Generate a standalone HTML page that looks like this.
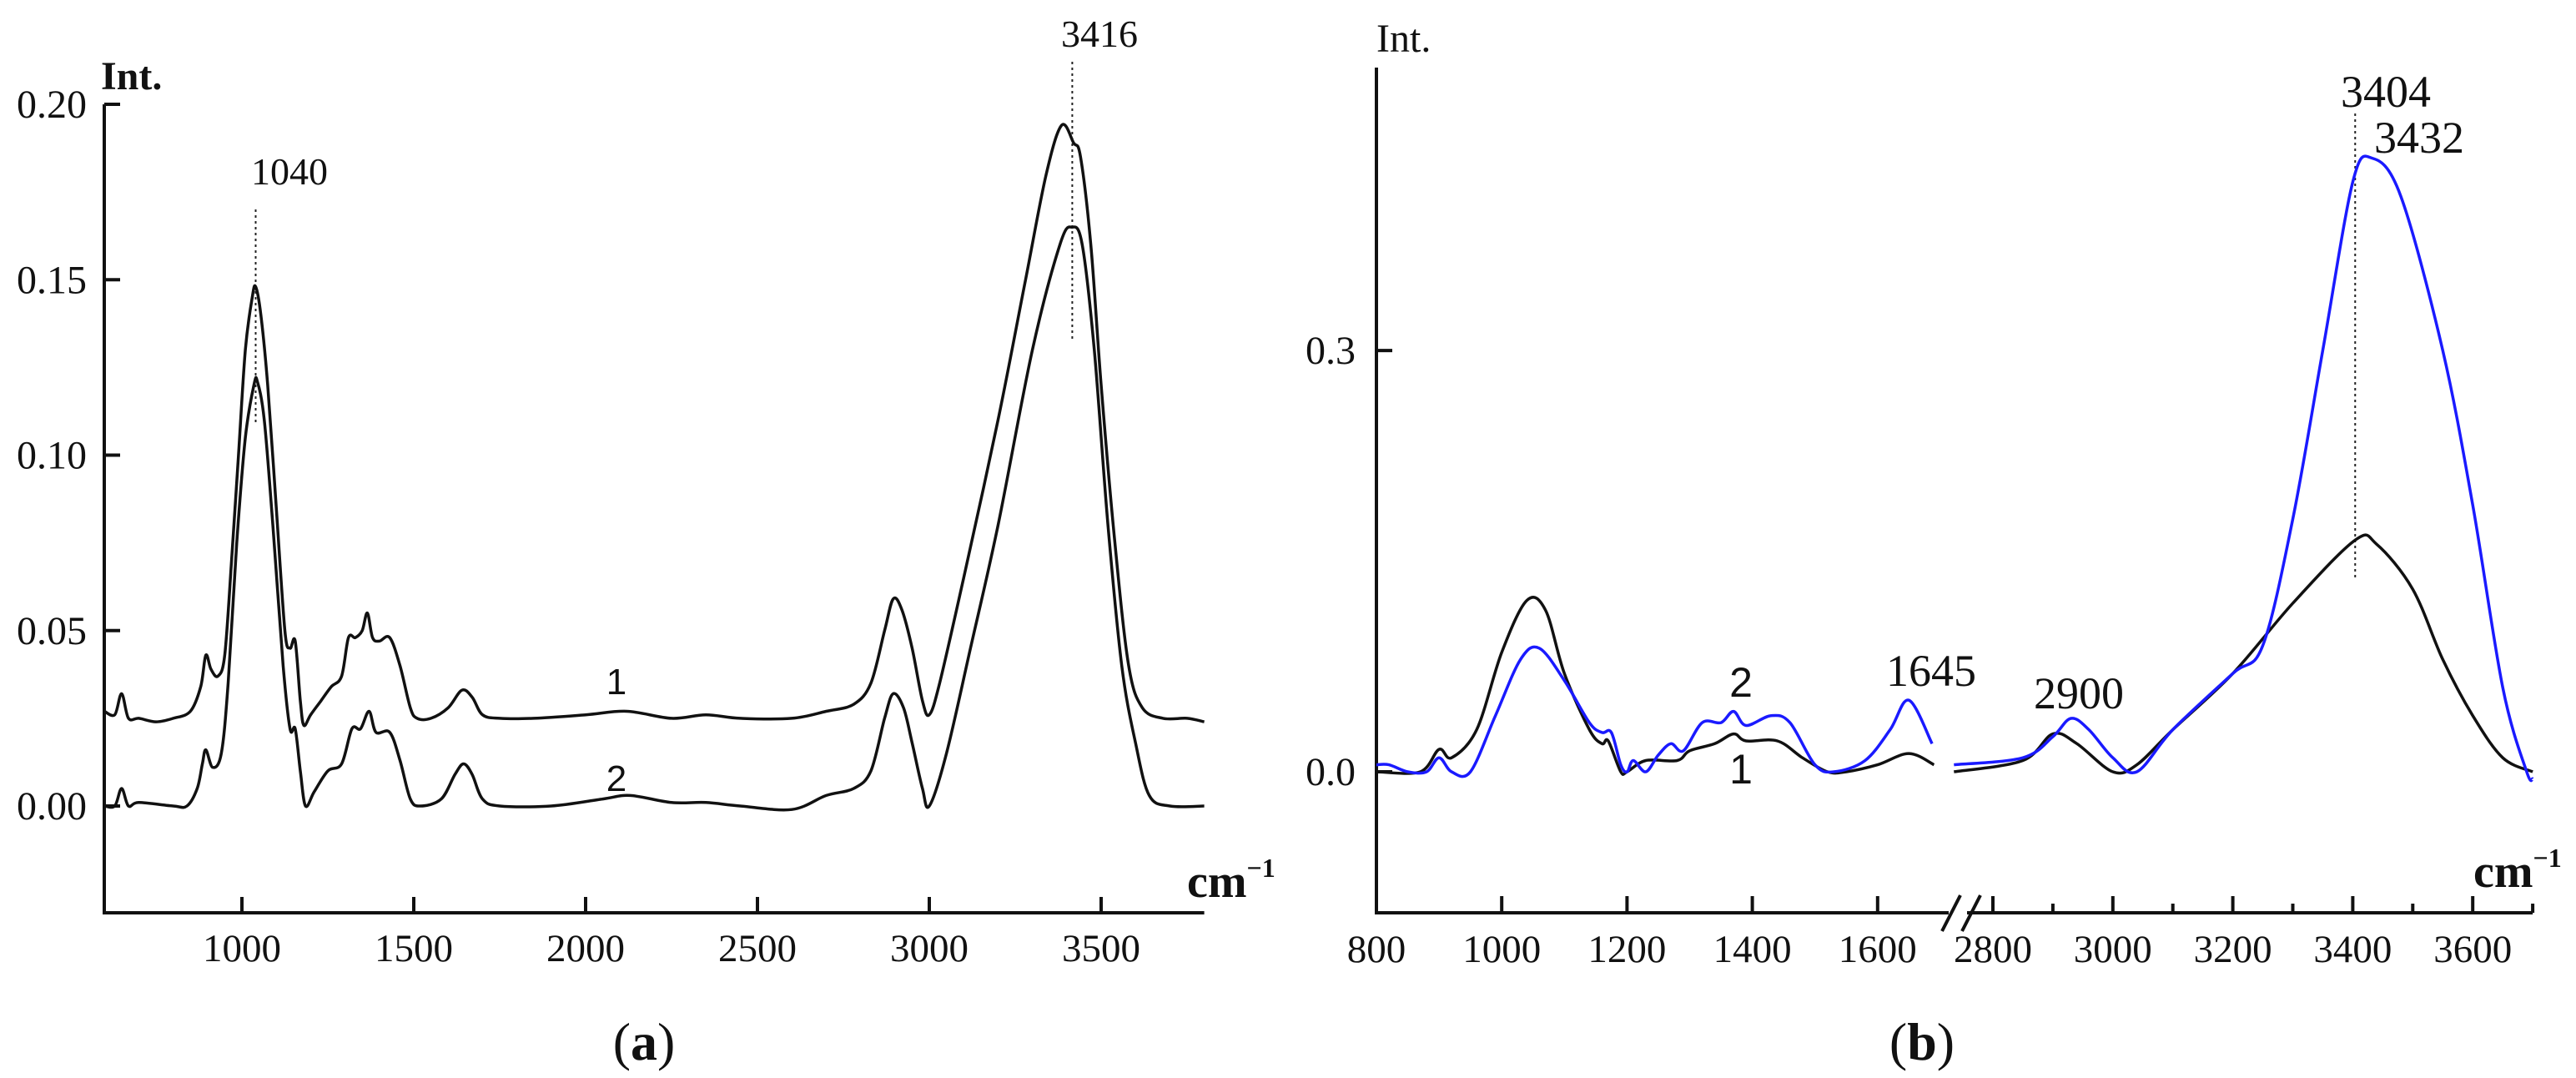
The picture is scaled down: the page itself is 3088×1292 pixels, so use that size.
<!DOCTYPE html>
<html><head><meta charset="utf-8">
<style>
html,body{margin:0;padding:0;background:#fff;}
svg{display:block;}
text{font-family:"Liberation Serif",serif;fill:#111;}
.sans{font-family:"Liberation Sans",sans-serif;}
</style></head>
<body>
<svg id="chart" width="3088" height="1292" viewBox="0 0 3088 1292" xmlns="http://www.w3.org/2000/svg">
<g id="pa"></g>
<g id="pb"></g>
</svg>
<script>
// ---- Panel (a) data ----
const aXTicks = [1000,1500,2000,2500,3000,3500];
const aYTicks = [0.00,0.05,0.10,0.15,0.20];
const aYTickLabels = ["0.00","0.05","0.10","0.15","0.20"];
const aC1x = [600,630,650,670,700,750,800,850,880,895,910,930,950,970,990,1010,1030,1040,1055,1075,1100,1125,1140,1155,1170,1180,1200,1230,1260,1290,1310,1330,1350,1365,1380,1400,1430,1460,1490,1510,1550,1600,1640,1670,1700,1750,1850,2000,2120,2250,2350,2450,2600,2700,2780,2830,2870,2895,2920,2950,2980,3000,3030,3100,3200,3280,3340,3385,3420,3440,3470,3500,3540,3580,3620,3680,3750,3800];
const aC1y = [0.027,0.026,0.032,0.025,0.025,0.024,0.025,0.027,0.034,0.043,0.039,0.037,0.043,0.07,0.1,0.13,0.145,0.148,0.14,0.12,0.085,0.05,0.045,0.047,0.03,0.023,0.026,0.03,0.034,0.037,0.048,0.048,0.05,0.055,0.048,0.047,0.048,0.04,0.028,0.025,0.025,0.028,0.033,0.031,0.026,0.025,0.025,0.026,0.027,0.025,0.026,0.025,0.025,0.027,0.029,0.035,0.05,0.059,0.056,0.045,0.03,0.026,0.035,0.065,0.11,0.15,0.18,0.194,0.189,0.185,0.16,0.12,0.075,0.04,0.028,0.025,0.025,0.024];
const aC2x = [600,630,650,670,700,800,840,870,885,895,915,940,960,985,1010,1035,1045,1065,1090,1120,1140,1155,1170,1185,1210,1250,1290,1320,1345,1370,1390,1430,1460,1490,1520,1580,1620,1645,1670,1700,1750,1900,2050,2130,2250,2350,2450,2600,2700,2780,2830,2870,2895,2925,2950,2980,3000,3050,3120,3200,3300,3380,3415,3445,3480,3520,3560,3600,3640,3700,3800];
const aC2y = [0.0,0.0,0.005,0.0,0.001,0.0,0.0,0.005,0.012,0.016,0.011,0.015,0.035,0.075,0.105,0.12,0.121,0.11,0.08,0.04,0.022,0.022,0.01,0.0,0.004,0.01,0.012,0.022,0.022,0.027,0.021,0.021,0.013,0.002,0.0,0.002,0.009,0.012,0.009,0.002,0.0,0.0,0.002,0.003,0.001,0.001,0.0,-0.001,0.003,0.005,0.01,0.025,0.032,0.028,0.018,0.005,0.0,0.015,0.045,0.08,0.13,0.16,0.165,0.16,0.13,0.08,0.04,0.018,0.003,0.0,0.0];

// ---- Panel (b) data ----
const bXTicks1 = [800,1000,1200,1400,1600];
const bXTicks2 = [2800,3000,3200,3400,3600];
const bMinor2 = [2900,3100,3300,3500,3700];
const bYTicks = [0.0,0.3];
const bYTickLabels = ["0.0","0.3"];
const bK1x = [800,870,900,920,960,1000,1040,1070,1100,1140,1160,1170,1190,1200,1230,1280,1300,1340,1370,1390,1440,1480,1520,1550,1600,1650,1690];
const bK1y = [0.0,0.0,0.016,0.01,0.03,0.085,0.122,0.115,0.07,0.03,0.02,0.022,0.0,0.0,0.008,0.008,0.015,0.02,0.027,0.022,0.022,0.01,0.0,0.0,0.005,0.013,0.005];
const bK2x = [2735,2850,2900,2940,3000,3040,3100,3200,3300,3404,3440,3500,3550,3600,3650,3700];
const bK2y = [0.0,0.008,0.027,0.02,0.0,0.005,0.03,0.07,0.12,0.165,0.162,0.13,0.08,0.04,0.01,0.0];
const bB1x = [800,820,850,880,900,920,950,990,1030,1060,1100,1140,1160,1175,1190,1200,1210,1230,1250,1270,1290,1320,1350,1370,1390,1430,1460,1500,1530,1580,1620,1650,1687];
const bB1y = [0.005,0.005,0.0,0.0,0.01,0.0,0.0,0.04,0.08,0.088,0.065,0.035,0.028,0.028,0.005,0.0,0.008,0.0,0.012,0.02,0.015,0.035,0.035,0.043,0.033,0.04,0.035,0.005,0.0,0.008,0.03,0.051,0.02];
const bB2x = [2735,2850,2900,2930,2960,3000,3040,3100,3200,3250,3300,3350,3400,3432,3480,3550,3600,3650,3690,3700];
const bB2y = [0.005,0.01,0.025,0.038,0.03,0.01,0.0,0.03,0.07,0.09,0.18,0.3,0.42,0.437,0.41,0.3,0.19,0.06,0.0,-0.005];

const NS="http://www.w3.org/2000/svg";
function mk(parent, tag, attrs, txt){
  const e=document.createElementNS(NS,tag);
  for(const k in attrs) e.setAttribute(k,attrs[k]);
  if(txt!==undefined) e.textContent=txt;
  parent.appendChild(e); return e;
}
function smoothPath(pts){
  let d="M"+pts[0][0].toFixed(1)+","+pts[0][1].toFixed(1);
  for(let i=0;i<pts.length-1;i++){
    const p0=pts[i-1]||pts[i], p1=pts[i], p2=pts[i+1], p3=pts[i+2]||p2;
    const c1x=p1[0]+(p2[0]-p0[0])/6, c1y=p1[1]+(p2[1]-p0[1])/6;
    const c2x=p2[0]-(p3[0]-p1[0])/6, c2y=p2[1]-(p3[1]-p1[1])/6;
    d+=" C"+c1x.toFixed(1)+","+c1y.toFixed(1)+" "+c2x.toFixed(1)+","+c2y.toFixed(1)+" "+p2[0].toFixed(1)+","+p2[1].toFixed(1);
  }
  return d;
}

// ===== Panel a =====
const pa=document.getElementById('pa');
const axA=v=>290+(v-1000)*0.412;
const ayA=v=>966-v*4205;
let e;
e=mk(pa,'path',{d:"M125,"+ayA(0.2)+" L125,1094 L"+axA(3800)+",1094",fill:"none",stroke:"#111","stroke-width":4});


aXTicks.forEach(v=>{
  e=mk(pa,'line',{x1:axA(v),x2:axA(v),y1:1094,y2:1075,stroke:"#111","stroke-width":4});
  
  
  e=mk(pa,'text',{x:axA(v),y:1152,"font-size":47,"text-anchor":"middle"},String(v));
  
  
});
aYTicks.forEach((v,i)=>{
  e=mk(pa,'line',{x1:125,x2:144,y1:ayA(v),y2:ayA(v),stroke:"#111","stroke-width":4});
  
  
  e=mk(pa,'text',{x:104,y:ayA(v)+16,"font-size":48,"text-anchor":"end"},aYTickLabels[i]);
  
  
});
e=mk(pa,'line',{x1:axA(1040),x2:axA(1040),y1:251,y2:507,stroke:"#222","stroke-width":2,"stroke-dasharray":"3,4"});


e=mk(pa,'line',{x1:axA(3416),x2:axA(3416),y1:74,y2:408,stroke:"#222","stroke-width":2,"stroke-dasharray":"3,4"});


e=mk(pa,'path',{d:smoothPath(aC1x.map((x,i)=>[axA(x),ayA(aC1y[i])])),fill:"none",stroke:"#111","stroke-width":3.5});


e=mk(pa,'path',{d:smoothPath(aC2x.map((x,i)=>[axA(x),ayA(aC2y[i])])),fill:"none",stroke:"#111","stroke-width":3.5});



// ===== Panel b =====
const pb=document.getElementById('pb');
const axB=v=>v<2200?1650+(v-800)*0.751:2389+(v-2800)*0.719;
const ayB=v=>925-v*1683;
e=mk(pb,'path',{d:"M1650,81 L1650,1094 L"+axB(3700)+",1094",fill:"none",stroke:"#111","stroke-width":4});


e=mk(pb,'rect',{x:2336,y:1085,width:22,height:16,fill:"#fff"});


e=mk(pb,'path',{d:"M2328,1116 L2350,1073 M2352,1116 L2374,1073",fill:"none",stroke:"#111","stroke-width":4});


bXTicks1.concat(bXTicks2).forEach(v=>{
  if(v!==800){
    e=mk(pb,'line',{x1:axB(v),x2:axB(v),y1:1094,y2:1074,stroke:"#111","stroke-width":4});
    
    
  }
  e=mk(pb,'text',{x:axB(v),y:1153,"font-size":47,"text-anchor":"middle"},String(v));
  
  
});
bMinor2.forEach(v=>{
  e=mk(pb,'line',{x1:axB(v),x2:axB(v),y1:1094,y2:1083,stroke:"#111","stroke-width":4});
  
  
});
bYTicks.forEach((v,i)=>{
  e=mk(pb,'line',{x1:1650,x2:1669,y1:ayB(v),y2:ayB(v),stroke:"#111","stroke-width":4});
  
  
  e=mk(pb,'text',{x:1625,y:ayB(v)+16,"font-size":48,"text-anchor":"end"},bYTickLabels[i]);
  
  
});
e=mk(pb,'line',{x1:axB(3404),x2:axB(3404),y1:136,y2:696,stroke:"#222","stroke-width":2,"stroke-dasharray":"3,4"});


[[bK1x,bK1y,'#111','curve-1-b-low'],[bK2x,bK2y,'#111','curve-1-b-high'],[bB1x,bB1y,'#1a1aff','curve-2-b-low'],[bB2x,bB2y,'#1a1aff','curve-2-b-high']].forEach(s=>{
  e=mk(pb,'path',{d:smoothPath(s[0].map((x,i)=>[axB(x),ayB(s[1][i])])),fill:"none",stroke:s[2],"stroke-width":3.5});
  
  
});
</script>
<svg style="position:absolute;left:0;top:0" width="3088" height="1292">
<text x="121" y="107" font-size="48" font-weight="bold">Int.</text>
<text x="1423" y="1075" font-size="56" font-weight="bold">cm<tspan font-size="32" dy="-24">−1</tspan></text>
<text x="301" y="221" font-size="46">1040</text>
<text x="1272" y="56" font-size="46">3416</text>
<text class="sans" x="739" y="832" font-size="44" text-anchor="middle">1</text>
<text class="sans" x="739" y="948" font-size="44" text-anchor="middle">2</text>
<text x="772" y="1270" font-size="64" text-anchor="middle">(<tspan font-weight="bold">a</tspan>)</text>
<text x="1650" y="62" font-size="48">Int.</text>
<text x="2965" y="1063" font-size="56" font-weight="bold">cm<tspan font-size="32" dy="-24">−1</tspan></text>
<text x="2806" y="128" font-size="54">3404</text>
<text x="2846" y="183" font-size="54">3432</text>
<text x="2261" y="822" font-size="54">1645</text>
<text x="2438" y="849" font-size="54">2900</text>
<text class="sans" x="2087" y="835" font-size="50" text-anchor="middle">2</text>
<text class="sans" x="2087" y="939" font-size="50" text-anchor="middle">1</text>
<text x="2304" y="1270" font-size="64" text-anchor="middle">(<tspan font-weight="bold">b</tspan>)</text>
</svg>
</body></html>
